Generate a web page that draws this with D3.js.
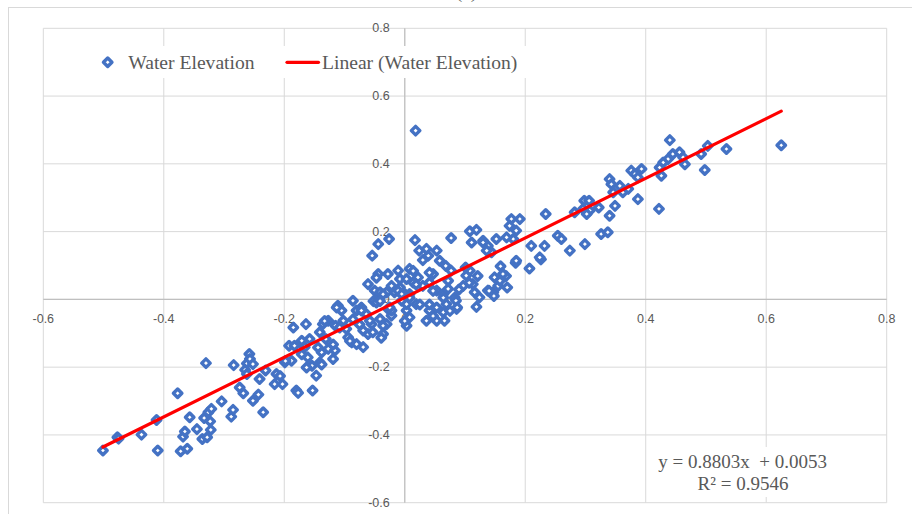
<!DOCTYPE html>
<html>
<head>
<meta charset="utf-8">
<script src="https://cdn.jsdelivr.net/npm/d3@7"></script>
<style>
  html, body { margin: 0; padding: 0; background: #fff; }
  #chart { width: 912px; height: 514px; overflow: hidden; }
</style>
</head>
<body>
<div id="chart"></div>
<script>
// --- data ---
const xTicks = [-0.6, -0.4, -0.2, 0, 0.2, 0.4, 0.6, 0.8];
const yTicks = [-0.6, -0.4, -0.2, 0, 0.2, 0.4, 0.6, 0.8];

const seriesName = "Water Elevation";
const trendName = "Linear (Water Elevation)";
const trendSlope = 0.8803;
const trendIntercept = 0.0053;
const trendR2 = 0.9546;

// [x, y] pairs
const waterElevation = [
  [-0.501,-0.446],[-0.477,-0.407],[-0.475,-0.411],[-0.437,-0.399],[-0.412,-0.356],[-0.410,-0.446],
  [-0.377,-0.277],[-0.372,-0.448],[-0.361,-0.441],[-0.368,-0.405],[-0.365,-0.390],[-0.357,-0.348],
  [-0.345,-0.383],[-0.336,-0.412],[-0.333,-0.350],[-0.330,-0.188],[-0.326,-0.333],[-0.323,-0.360],
  [-0.322,-0.385],[-0.328,-0.407],[-0.321,-0.323],[-0.304,-0.301],[-0.288,-0.346],[-0.285,-0.326],
  [-0.284,-0.194],[-0.274,-0.260],[-0.268,-0.277],[-0.262,-0.189],[-0.258,-0.161],[-0.257,-0.176],
  [-0.265,-0.208],[-0.262,-0.220],[-0.252,-0.191],[-0.252,-0.299],[-0.243,-0.281],[-0.235,-0.333],
  [-0.241,-0.235],[-0.231,-0.210],[-0.216,-0.250],[-0.213,-0.220],[-0.203,-0.250],[-0.199,-0.186],
  [-0.192,-0.137],[-0.207,-0.226],
  [-0.180,-0.269],[-0.177,-0.276],[-0.153,-0.269],[-0.147,-0.225],[-0.185,-0.083],[-0.164,-0.073],
  [-0.183,-0.137],[-0.188,-0.181],[-0.171,-0.122],[-0.166,-0.141],[-0.158,-0.117],[-0.161,-0.171],
  [-0.154,-0.196],[-0.141,-0.097],[-0.136,-0.073],[-0.131,-0.117],[-0.138,-0.156],[-0.141,-0.186],
  [-0.127,-0.146],[-0.116,-0.151],[-0.119,-0.176],[-0.127,-0.063],[-0.115,-0.078],[-0.111,-0.019],
  [-0.105,-0.033],[-0.102,-0.063],[-0.097,-0.087],[-0.094,-0.112],[-0.086,-0.004],[-0.080,-0.033],
  [-0.088,-0.127],[-0.080,-0.132],[-0.069,-0.141],[-0.072,-0.024],[-0.064,-0.043],[-0.061,-0.102],
  [-0.061,0.045],[-0.055,-0.073],[-0.047,0.001],[-0.050,0.026],[-0.036,-0.102],[-0.041,-0.058],
  [-0.030,-0.073],[-0.028,-0.028],[-0.022,-0.048],[-0.017,0.021],[-0.008,0.035],[-0.005,-0.004],
  [0.003,-0.033],[0.000,0.016],
  [-0.133,-0.064],[-0.113,-0.024],[-0.198,-0.182],[-0.138,-0.192],[-0.091,-0.123],[-0.039,-0.113],
  [-0.171,-0.162],[-0.163,-0.201],[-0.144,-0.142],[-0.119,-0.133],[-0.108,-0.083],[-0.086,-0.059],
  [-0.075,-0.074],[-0.052,-0.005],
  [-0.044,0.163],[-0.026,0.178],[-0.054,0.129],[-0.044,0.075],[-0.028,0.075],[-0.011,0.085],
  [-0.008,0.060],[-0.022,-0.033],[-0.030,0.021],[-0.041,0.021],[-0.047,-0.009],[-0.072,-0.033],
  [-0.058,-0.063],[-0.036,-0.078],[-0.053,-0.097],[-0.069,-0.092],
  [-0.011,0.025],[-0.022,0.040],[-0.036,0.015],[-0.025,-0.024],[-0.041,-0.005],[-0.047,0.064],
  [0.017,0.175],[0.024,0.144],[0.030,0.116],[0.039,0.129],[0.053,0.144],[0.058,0.114],
  [0.047,0.075],[0.077,0.181],[0.068,0.099],[0.077,0.085],[0.072,0.055],[0.108,0.201],
  [0.119,0.205],[0.111,0.168],[0.130,0.173],[0.138,0.158],[0.152,0.178],[0.144,0.139],
  [0.108,0.085],[0.113,0.045],[0.097,0.040],[0.102,0.070],[0.119,-0.022],[0.116,0.021],
  [0.149,0.065],[0.147,0.021],[0.155,0.040],[0.008,0.090],[0.003,0.060],[0.014,0.050],
  [0.022,0.065],[0.030,0.040],[0.041,0.050],[0.053,0.026],[0.064,0.016],[0.072,0.031],
  [0.083,0.005],[0.086,-0.028],[0.069,-0.014],[0.064,-0.038],[0.053,-0.063],[0.066,-0.063],
  [0.041,-0.033],[0.036,-0.063],[0.019,-0.014],[0.008,0.016],[-0.005,0.016],[0.003,-0.014],
  [0.008,-0.053],[0.003,-0.078],[0.124,0.006],[0.138,0.026],
  [0.036,0.149],[0.018,0.498],
  [0.000,-0.064],[0.047,-0.049],[0.075,-0.034],[0.041,0.079],[0.014,0.084],[0.019,0.044],
  [0.047,0.025],[0.064,0.005],[0.041,-0.015],[0.053,-0.024],[0.025,-0.015],[0.008,0.005],
  [0.184,0.108],[0.207,0.091],[0.226,0.118],[0.159,0.098],[0.168,0.069],[0.170,0.035],
  [0.140,0.025],[0.148,0.010],[0.121,0.069],[0.107,0.049],[0.090,0.029],[0.085,-0.004],
  [0.087,-0.024],[0.101,0.094],
  [0.234,0.252],[0.177,0.237],[0.191,0.237],[0.174,0.217],[0.185,0.203],[0.180,0.178],
  [0.169,0.183],[0.130,0.168],[0.136,0.144],[0.210,0.158],[0.232,0.158],[0.224,0.124],
  [0.185,0.114],[0.163,0.075],[0.158,0.055],[0.254,0.188],[0.260,0.178],[0.274,0.144],
  [0.299,0.163],[0.282,0.257],[0.296,0.267],[0.307,0.262],[0.326,0.193],[0.337,0.198],
  [0.340,0.247],[0.349,0.276],[0.298,0.291],[0.306,0.291],[0.322,0.271],
  [0.440,0.470],[0.445,0.429],[0.456,0.434],[0.462,0.419],[0.465,0.399],[0.437,0.414],
  [0.429,0.404],[0.423,0.389],[0.426,0.365],[0.422,0.267],[0.498,0.382],[0.492,0.429],
  [0.503,0.453],[0.534,0.444],[0.625,0.455],[0.376,0.380],[0.393,0.385],[0.382,0.370],
  [0.387,0.360],[0.387,0.296],[0.340,0.355],[0.343,0.340],[0.357,0.335],[0.346,0.316],
  [0.362,0.316],[0.371,0.326],[0.302,0.252]
];

document.addEventListener('DOMContentLoaded', function () {
  const width = 912, height = 514;
  const plot = { left: 43.3, right: 886.7, top: 28.3, bottom: 502.7 };
  const grey = "#595959";
  const gridColor = "#d9d9d9";
  const blue = "#4472C4";

  const svg = d3.select("#chart").append("svg")
    .attr("width", width)
    .attr("height", height)
    .style("background-color", "#fff");

  const x = d3.scaleLinear().domain([-0.6, 0.8]).range([plot.left, plot.right]);
  const y = d3.scaleLinear().domain([-0.6, 0.8]).range([plot.bottom, plot.top]);

  // chart area border (runs off the right and bottom of the picture)
  svg.append("rect")
    .attr("x", 8.5).attr("y", 7.5)
    .attr("width", 1000).attr("height", 1000)
    .attr("fill", "#fff").attr("stroke", gridColor);

  // title, mostly cut off at the top like in the source
  svg.append("text")
    .attr("x", 466.5).attr("y", -2.3)
    .attr("text-anchor", "middle")
    .style("font-family", "'Liberation Serif', 'Times New Roman', serif")
    .style("font-size", "19.6px")
    .attr("fill", grey)
    .text("(a)");

  // gridlines
  const grid = svg.append("g");
  grid.selectAll("line.v").data(xTicks).join("line")
    .attr("x1", d => x(d)).attr("x2", d => x(d))
    .attr("y1", plot.top).attr("y2", plot.bottom)
    .attr("stroke", gridColor).attr("stroke-width", 1);
  grid.selectAll("line.h").data(yTicks).join("line")
    .attr("x1", plot.left).attr("x2", plot.right)
    .attr("y1", d => y(d)).attr("y2", d => y(d))
    .attr("stroke", gridColor).attr("stroke-width", 1);

  // axes crossing at zero
  svg.append("line")
    .attr("x1", plot.left).attr("x2", plot.right)
    .attr("y1", y(0)).attr("y2", y(0))
    .attr("stroke", "#bfbfbf").attr("stroke-width", 1.2);
  svg.append("line")
    .attr("x1", x(0)).attr("x2", x(0))
    .attr("y1", plot.top).attr("y2", plot.bottom)
    .attr("stroke", "#bfbfbf").attr("stroke-width", 1.2);

  // tick labels
  const fmt = d => d3.format("")(Math.round(d * 10) / 10).replace("−", "-");
  const labelFont = "'Liberation Sans', Arial, sans-serif";
  svg.append("g").selectAll("text").data(xTicks).join("text")
    .attr("x", d => x(d)).attr("y", y(0) + 20)
    .attr("text-anchor", "middle")
    .attr("dominant-baseline", "central")
    .style("font-family", labelFont).style("font-size", "12.5px")
    .attr("fill", grey)
    .text(fmt);
  svg.append("g").selectAll("text").data(yTicks).join("text")
    .attr("x", x(0) - 15).attr("y", d => y(d))
    .attr("text-anchor", "end")
    .attr("dominant-baseline", "central")
    .style("font-family", labelFont).style("font-size", "12.5px")
    .attr("fill", grey)
    .text(fmt);

  // legend box
  const serif = "'Liberation Serif', 'Times New Roman', serif";
  const legend = svg.append("g");
  legend.append("rect")
    .attr("x", 92).attr("y", 46).attr("width", 440).attr("height", 32)
    .attr("fill", "#fff");

  const diamond = d3.symbol().type(d3.symbolDiamond2).size(46);

  legend.append("path")
    .attr("d", diamond())
    .attr("transform", "translate(107.7,62.3)")
    .attr("fill", "#fff").attr("stroke", blue)
    .attr("stroke-width", 3.4).attr("stroke-linejoin", "round");
  legend.append("text")
    .attr("x", 128.3).attr("y", 69.2)
    .style("font-family", serif).style("font-size", "19.6px")
    .attr("fill", grey)
    .text(seriesName);
  legend.append("line")
    .attr("x1", 287).attr("x2", 318.5).attr("y1", 62.3).attr("y2", 62.3)
    .attr("stroke", "#ff0000").attr("stroke-width", 3.2).attr("stroke-linecap", "round");
  legend.append("text")
    .attr("x", 322).attr("y", 69.2)
    .style("font-family", serif).style("font-size", "19.6px")
    .attr("fill", grey)
    .text(trendName);

  // points
  svg.append("g").selectAll("path").data(waterElevation).join("path")
    .attr("d", diamond())
    .attr("transform", d => `translate(${x(d[0])},${y(d[1])})`)
    .attr("fill", "#fff").attr("stroke", blue)
    .attr("stroke-width", 3.4).attr("stroke-linejoin", "round");

  // linear trendline over the data range
  const xExt = d3.extent(waterElevation, d => d[0]);
  svg.append("line")
    .attr("x1", x(xExt[0])).attr("y1", y(trendSlope * xExt[0] + trendIntercept))
    .attr("x2", x(xExt[1])).attr("y2", y(trendSlope * xExt[1] + trendIntercept))
    .attr("stroke", "#ff0000").attr("stroke-width", 3.2).attr("stroke-linecap", "round");

  // equation label
  const eq = svg.append("g");
  eq.append("rect")
    .attr("x", 655).attr("y", 447).attr("width", 176).attr("height", 50)
    .attr("fill", "#fff");
  eq.append("text")
    .attr("x", 742.7).attr("y", 467.7)
    .attr("text-anchor", "middle")
    .style("font-family", serif).style("font-size", "19px")
    .style("white-space", "pre")
    .attr("fill", grey)
    .text(`y = ${trendSlope.toFixed(4)}x  + ${trendIntercept.toFixed(4)}`);
  eq.append("text")
    .attr("x", 743).attr("y", 490.3)
    .attr("text-anchor", "middle")
    .style("font-family", serif).style("font-size", "19px")
    .attr("fill", grey)
    .text(`R² = ${trendR2.toFixed(4)}`);
});
</script>
</body>
</html>
